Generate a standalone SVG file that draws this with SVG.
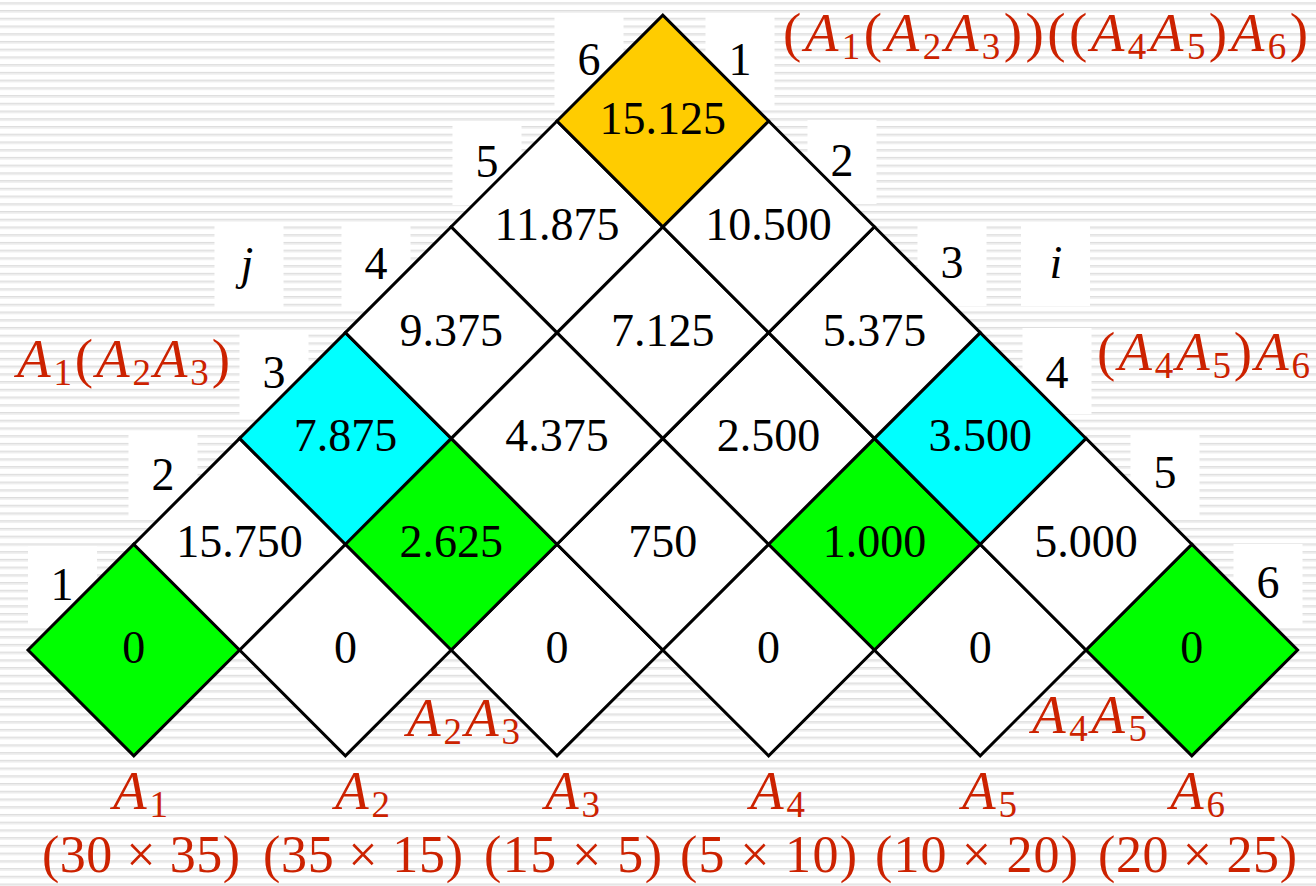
<svg xmlns="http://www.w3.org/2000/svg" width="1316" height="886" viewBox="0 0 1316 886">
<defs>
<pattern id="stripes" width="40" height="7.73" patternUnits="userSpaceOnUse" y="2.3">
<rect width="40" height="7.73" fill="#ffffff"/>
<rect y="0" width="40" height="1.4" fill="#dddddd"/>
<rect y="1.4" width="40" height="1.2" fill="#eaeaea"/>
</pattern>
<polygon id="dia" points="-105.8,0 0,-105.8 105.8,0 0,105.8"/>
</defs>
<style>
.cell use{stroke:#000;stroke-width:3;stroke-linejoin:miter}
.w{fill:#ffffff}
.g{fill:#00ff00}
.c{fill:#00ffff}
.y{fill:#ffcc00}
.num{font-family:"Liberation Serif","Times New Roman",serif;font-size:46px;text-anchor:middle;fill:#000}
.ital{font-style:italic}
.box{fill:#ffffff}
.red{font-family:"Liberation Serif","Times New Roman",serif;font-size:55px;fill:#cc2200}
.dim{font-size:52px}
.it{font-style:italic}
.sub{font-size:37px}
</style>
<rect id="background" width="1316" height="886" fill="url(#stripes)"/>
<g id="label-boxes">
<rect class="box" x="554.5" y="13" width="69" height="95"/>
<rect class="box" x="705.5" y="13" width="69" height="95"/>
<rect class="box" x="452.5" y="121" width="69" height="84"/>
<rect class="box" x="807.5" y="120" width="69" height="84"/>
<rect class="box" x="214.5" y="224" width="69" height="84"/>
<rect class="box" x="341.5" y="224" width="69" height="84"/>
<rect class="box" x="917.5" y="222" width="69" height="84"/>
<rect class="box" x="1021" y="222" width="69" height="84"/>
<rect class="box" x="239.5" y="332" width="69" height="84"/>
<rect class="box" x="1022.5" y="328" width="69" height="86"/>
<rect class="box" x="128.5" y="434" width="69" height="84"/>
<rect class="box" x="1130.5" y="432" width="69" height="84"/>
<rect class="box" x="28" y="546" width="69" height="82"/>
<rect class="box" x="1233.5" y="544" width="69" height="84"/>
</g>
<g id="cells" class="cell">
<g id="m11"><use href="#dia" class="g" x="133.8" y="650"/><text class="num" x="133.8" y="663">0</text></g>
<g id="m22"><use href="#dia" class="w" x="345.4" y="650"/><text class="num" x="345.4" y="663">0</text></g>
<g id="m33"><use href="#dia" class="w" x="557" y="650"/><text class="num" x="557" y="663">0</text></g>
<g id="m44"><use href="#dia" class="w" x="768.6" y="650"/><text class="num" x="768.6" y="663">0</text></g>
<g id="m55"><use href="#dia" class="w" x="980.2" y="650"/><text class="num" x="980.2" y="663">0</text></g>
<g id="m66"><use href="#dia" class="g" x="1191.8" y="650"/><text class="num" x="1191.8" y="663">0</text></g>
<g id="m12"><use href="#dia" class="w" x="239.6" y="544.2"/><text class="num" x="239.6" y="557.2">15.750</text></g>
<g id="m23"><use href="#dia" class="g" x="451.2" y="544.2"/><text class="num" x="451.2" y="557.2">2.625</text></g>
<g id="m34"><use href="#dia" class="w" x="662.8" y="544.2"/><text class="num" x="662.8" y="557.2">750</text></g>
<g id="m45"><use href="#dia" class="g" x="874.4" y="544.2"/><text class="num" x="874.4" y="557.2">1.000</text></g>
<g id="m56"><use href="#dia" class="w" x="1086" y="544.2"/><text class="num" x="1086" y="557.2">5.000</text></g>
<g id="m13"><use href="#dia" class="c" x="345.4" y="438.4"/><text class="num" x="345.4" y="451.4">7.875</text></g>
<g id="m24"><use href="#dia" class="w" x="557" y="438.4"/><text class="num" x="557" y="451.4">4.375</text></g>
<g id="m35"><use href="#dia" class="w" x="768.6" y="438.4"/><text class="num" x="768.6" y="451.4">2.500</text></g>
<g id="m46"><use href="#dia" class="c" x="980.2" y="438.4"/><text class="num" x="980.2" y="451.4">3.500</text></g>
<g id="m14"><use href="#dia" class="w" x="451.2" y="332.6"/><text class="num" x="451.2" y="345.6">9.375</text></g>
<g id="m25"><use href="#dia" class="w" x="662.8" y="332.6"/><text class="num" x="662.8" y="345.6">7.125</text></g>
<g id="m36"><use href="#dia" class="w" x="874.4" y="332.6"/><text class="num" x="874.4" y="345.6">5.375</text></g>
<g id="m15"><use href="#dia" class="w" x="557" y="226.8"/><text class="num" x="557" y="239.8">11.875</text></g>
<g id="m26"><use href="#dia" class="w" x="768.6" y="226.8"/><text class="num" x="768.6" y="239.8">10.500</text></g>
<g id="m16"><use href="#dia" class="y" x="662.8" y="121"/><text class="num" x="662.8" y="134">15.125</text></g>
</g>
<g id="j-labels">
<text class="num" x="589" y="75">6</text>
<text class="num" x="487" y="177">5</text>
<text class="num" x="376" y="279">4</text>
<text class="num" x="274" y="388">3</text>
<text class="num" x="163" y="490">2</text>
<text class="num" x="62" y="600">1</text>
<text class="num ital" x="247" y="279">j</text>
</g>
<g id="i-labels">
<text class="num" x="740" y="75">1</text>
<text class="num" x="842" y="176">2</text>
<text class="num" x="952" y="278">3</text>
<text class="num" x="1057" y="388">4</text>
<text class="num" x="1165" y="488">5</text>
<text class="num" x="1268" y="598">6</text>
<text class="num ital" x="1056" y="278">i</text>
</g>
<g id="parenthesizations">
<text class="red" x="783" y="51" textLength="525" lengthAdjust="spacing">(<tspan class="it">A</tspan><tspan class="sub" dy="8">1</tspan><tspan dy="-8">(</tspan><tspan class="it">A</tspan><tspan class="sub" dy="8">2</tspan><tspan class="it" dy="-8">A</tspan><tspan class="sub" dy="8">3</tspan><tspan dy="-8">))((</tspan><tspan class="it">A</tspan><tspan class="sub" dy="8">4</tspan><tspan class="it" dy="-8">A</tspan><tspan class="sub" dy="8">5</tspan><tspan dy="-8">)</tspan><tspan class="it">A</tspan><tspan class="sub" dy="8">6</tspan><tspan dy="-8">)</tspan></text>
<text class="red" x="17" y="377" textLength="213" lengthAdjust="spacing"><tspan class="it">A</tspan><tspan class="sub" dy="8">1</tspan><tspan dy="-8">(</tspan><tspan class="it">A</tspan><tspan class="sub" dy="8">2</tspan><tspan class="it" dy="-8">A</tspan><tspan class="sub" dy="8">3</tspan><tspan dy="-8">)</tspan></text>
<text class="red" x="1097" y="370" textLength="213" lengthAdjust="spacing">(<tspan class="it">A</tspan><tspan class="sub" dy="8">4</tspan><tspan class="it" dy="-8">A</tspan><tspan class="sub" dy="8">5</tspan><tspan dy="-8">)</tspan><tspan class="it">A</tspan><tspan class="sub" dy="8">6</tspan></text>
<text class="red" x="407" y="736" textLength="113" lengthAdjust="spacing"><tspan class="it">A</tspan><tspan class="sub" dy="8">2</tspan><tspan class="it" dy="-8">A</tspan><tspan class="sub" dy="8">3</tspan></text>
<text class="red" x="1032" y="733" textLength="115" lengthAdjust="spacing"><tspan class="it">A</tspan><tspan class="sub" dy="8">4</tspan><tspan class="it" dy="-8">A</tspan><tspan class="sub" dy="8">5</tspan></text>
</g>
<g id="matrices">
<text class="red" x="113" y="809" textLength="55" lengthAdjust="spacing"><tspan class="it">A</tspan><tspan class="sub" dy="8">1</tspan></text>
<text class="red" x="335" y="809" textLength="55" lengthAdjust="spacing"><tspan class="it">A</tspan><tspan class="sub" dy="8">2</tspan></text>
<text class="red" x="545" y="809" textLength="55" lengthAdjust="spacing"><tspan class="it">A</tspan><tspan class="sub" dy="8">3</tspan></text>
<text class="red" x="750" y="809" textLength="55" lengthAdjust="spacing"><tspan class="it">A</tspan><tspan class="sub" dy="8">4</tspan></text>
<text class="red" x="962" y="809" textLength="55" lengthAdjust="spacing"><tspan class="it">A</tspan><tspan class="sub" dy="8">5</tspan></text>
<text class="red" x="1170" y="809" textLength="55" lengthAdjust="spacing"><tspan class="it">A</tspan><tspan class="sub" dy="8">6</tspan></text>
<text class="red dim" x="42" y="872" textLength="198" lengthAdjust="spacing">(30 × 35)</text>
<text class="red dim" x="263" y="872" textLength="200" lengthAdjust="spacing">(35 × 15)</text>
<text class="red dim" x="484" y="872" textLength="178" lengthAdjust="spacing">(15 × 5)</text>
<text class="red dim" x="680" y="872" textLength="177" lengthAdjust="spacing">(5 × 10)</text>
<text class="red dim" x="875" y="872" textLength="203" lengthAdjust="spacing">(10 × 20)</text>
<text class="red dim" x="1098" y="872" textLength="199" lengthAdjust="spacing">(20 × 25)</text>
</g>
</svg>
